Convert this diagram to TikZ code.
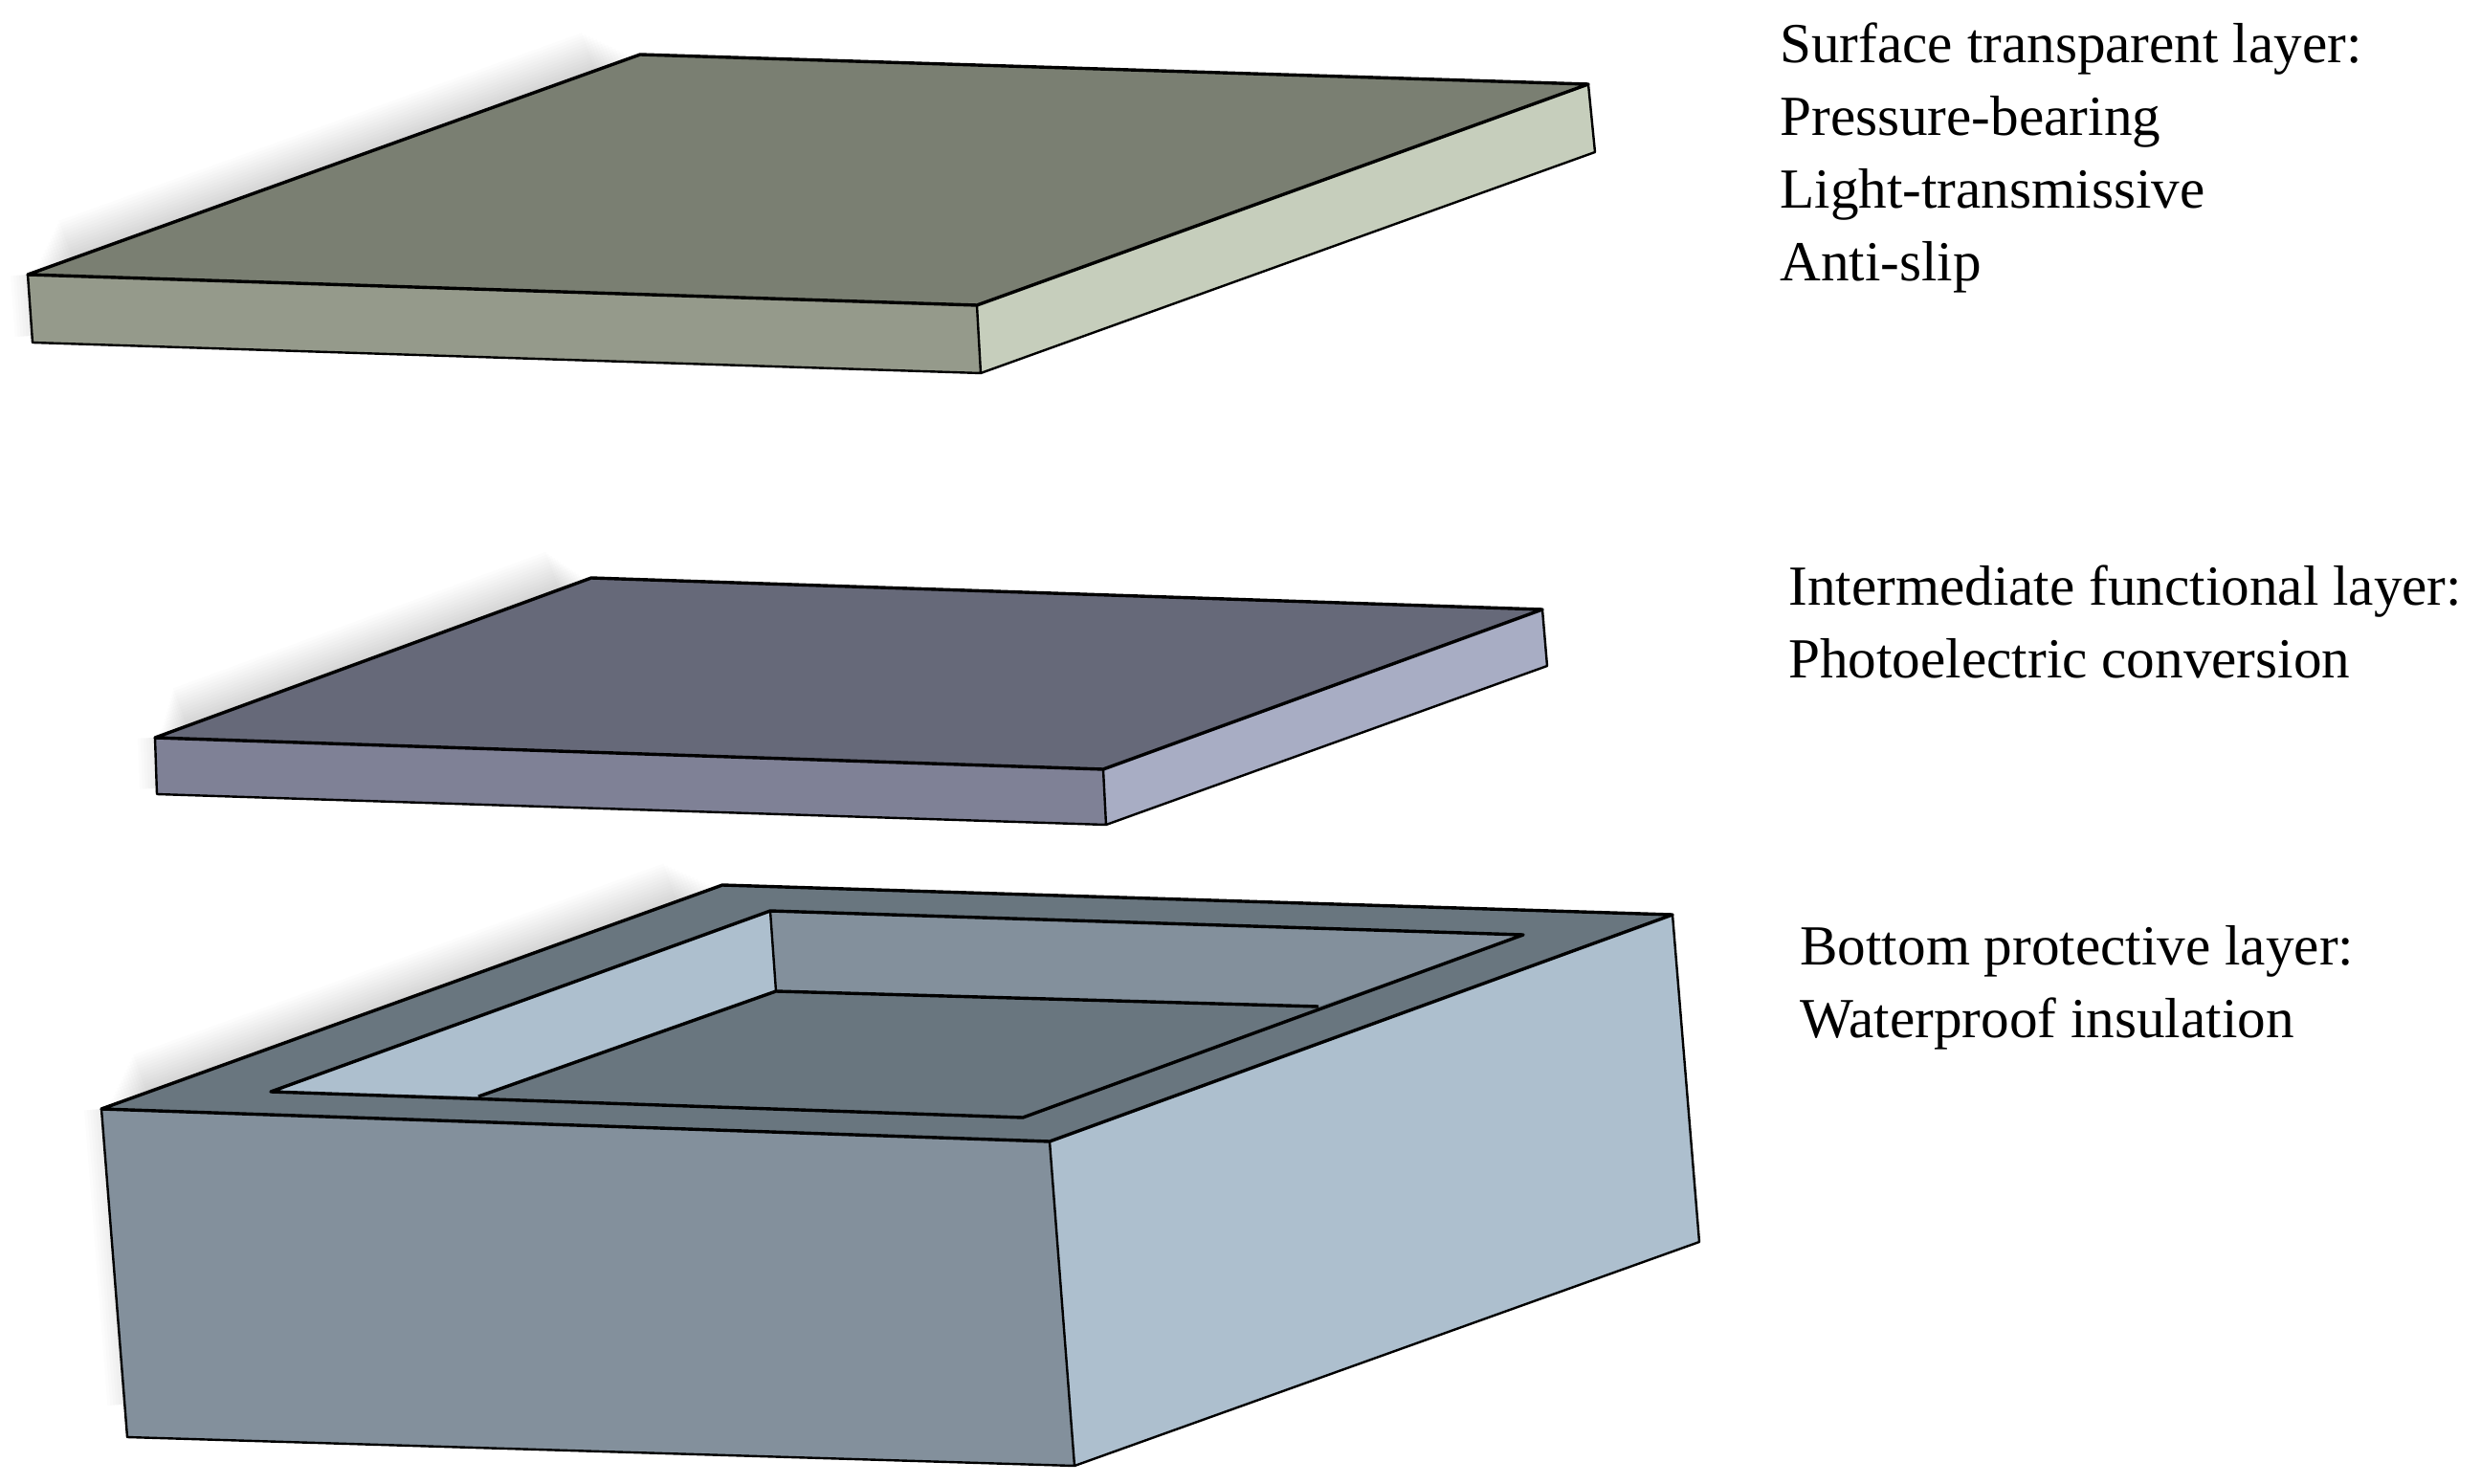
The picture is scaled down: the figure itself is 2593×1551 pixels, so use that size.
\documentclass[tikz,border=0pt]{standalone}
\usepackage{fontspec}
\usetikzlibrary{calc}
\setmainfont{Liberation Serif}
\definecolor{atop}{HTML}{7A7F72}
\definecolor{afront}{HTML}{959A8B}
\definecolor{aright}{HTML}{C6CEBC}
\definecolor{btop}{HTML}{666979}
\definecolor{bfront}{HTML}{7F8196}
\definecolor{bright}{HTML}{A8ADC4}
\definecolor{ctop}{HTML}{69767F}
\definecolor{cfront}{HTML}{83909C}
\definecolor{cright}{HTML}{ADBFCE}
\tikzset{
  face/.style={draw=black,line width=1.7pt,line join=round},
  thinface/.style={draw=black,line width=1.2pt,line join=round},
  lbl/.style={anchor=north west,inner sep=0pt,align=left,text=black,
    font=\fontsize{29.6}{38}\selectfont},
  softedge/.style={black,opacity=0.012,line cap=butt}
}
\newcommand{\softshadow}[3]{%
  \foreach \w in {3,6,...,42}{\draw[softedge,line width=\w pt] ($(#1)!{0.01+\w*0.0015}!(#2)$) -- ($(#2)!{0.01+\w*0.0015}!(#1)$);}
  \foreach \w in {3,6,...,18}{\draw[softedge,line width=\w pt] (#1) -- ($(#1)!0.9!(#3)$);}
}
\begin{document}
\begin{tikzpicture}[x=0.5pt,y=-0.5pt]
\fill[white] (0,0) rectangle (2593,1551);
\useasboundingbox (0,0) rectangle (2593,1551);

% top slab
\coordinate (ab) at (669,57);
\coordinate (al) at (29,287);
\coordinate (af) at (1021,319);
\coordinate (ar) at (1660,88);
\coordinate (all) at (34,358);
\coordinate (afl) at (1025,390);
\coordinate (arl) at (1667,159);
\softshadow{al}{ab}{all}
\fill[afront] (al) -- (af) -- (afl) -- (all) -- cycle;
\fill[aright] (af) -- (ar) -- (arl) -- (afl) -- cycle;
\path[face,fill=atop] (al) -- (ab) -- (ar) -- (af) -- cycle;
\draw[thinface] (al) -- (all) -- (afl) -- (af);
\draw[thinface] (afl) -- (arl) -- (ar);

% middle slab
\coordinate (bb) at (618,604);
\coordinate (bl) at (162,771);
\coordinate (bf) at (1153,804);
\coordinate (br) at (1612,637);
\coordinate (bll) at (164,830);
\coordinate (bfl) at (1156,862);
\coordinate (brl) at (1617,696);
\softshadow{bl}{bb}{bll}
\fill[bfront] (bl) -- (bf) -- (bfl) -- (bll) -- cycle;
\fill[bright] (bf) -- (br) -- (brl) -- (bfl) -- cycle;
\path[face,fill=btop] (bl) -- (bb) -- (br) -- (bf) -- cycle;
\draw[thinface] (bl) -- (bll) -- (bfl) -- (bf);
\draw[thinface] (bfl) -- (brl) -- (br);

% bottom box
\coordinate (cb) at (755,925);
\coordinate (cl) at (106,1159);
\coordinate (cf) at (1097,1193);
\coordinate (cr) at (1748,956);
\coordinate (cll) at (133,1502);
\coordinate (cfl) at (1123,1532);
\coordinate (crl) at (1776,1298);
\coordinate (il) at (283,1141);
\coordinate (ib) at (805,952);
\coordinate (ir) at (1592,977);
\coordinate (if) at (1069,1168);
\coordinate (fb) at (811,1036);
\coordinate (fl) at (500,1146);
\coordinate (fr) at (1378,1052);
\softshadow{cl}{cb}{cll}
\fill[cfront] (cl) -- (cf) -- (cfl) -- (cll) -- cycle;
\fill[cright] (cf) -- (cr) -- (crl) -- (cfl) -- cycle;
\path[face,fill=ctop] (cl) -- (cb) -- (cr) -- (cf) -- cycle;
\fill[cright] (il) -- (ib) -- (fb) -- (fl) -- cycle;
\fill[cfront] (ib) -- (ir) -- (fr) -- (fb) -- cycle;
\fill[ctop] (fb) -- (fr) -- (if) -- (fl) -- cycle;
\draw[face] (il) -- (ib) -- (ir) -- (if) -- cycle;
\draw[face] (fl) -- (fb) -- (fr);
\draw[thinface] (ib) -- (fb);
\draw[thinface] (cl) -- (cll) -- (cfl) -- (cf);
\draw[thinface] (cfl) -- (crl) -- (cr);

% labels
\node[lbl] (t1) at (1860,23) {Surface transparent layer:\\Pressure-bearing\\Light-transmissive\\Anti-slip};
\node[lbl] (t2) at (1869,590) {Intermediate functional layer:\\Photoelectric conversion};
\node[lbl] (t3) at (1881,967) {Bottom protective layer:\\Waterproof insulation};
\end{tikzpicture}
\end{document}
